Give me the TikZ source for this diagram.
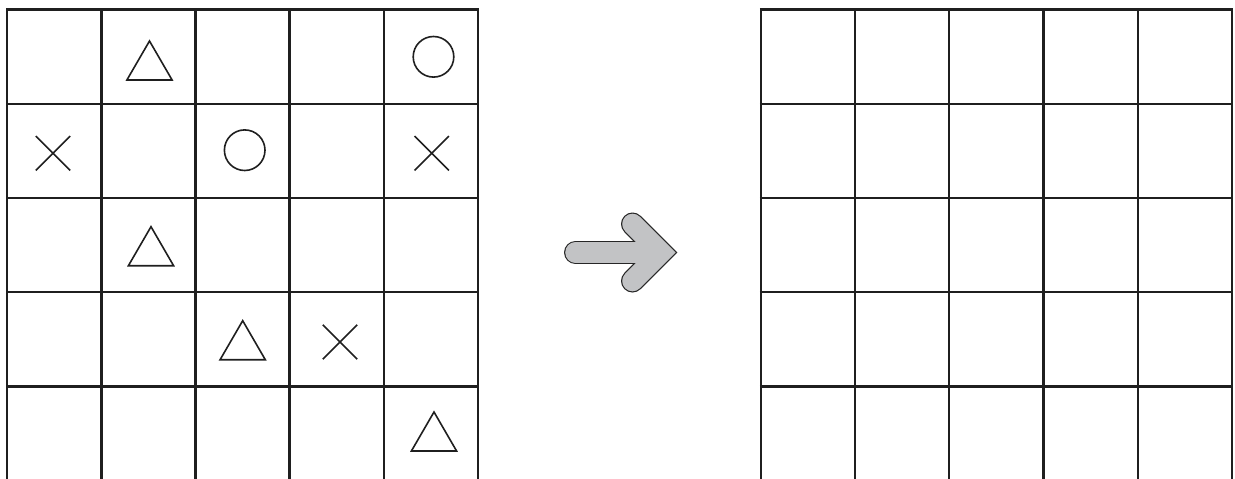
\documentclass[tikz,border=0pt]{standalone}
\begin{document}
\begin{tikzpicture}[x=1pt,y=-1pt,
  gridline/.style={line width=2.2pt,draw=black!88},
  sym/.style={line width=1.6pt,draw=black!88,line join=miter},
  arrowout/.style={line width=23pt,draw=black!85,line cap=round,line join=miter},
  arrowin/.style={line width=20.6pt,draw=arrowgray,line cap=round,line join=miter}]
\definecolor{arrowgray}{RGB}{194,195,197}
\useasboundingbox (0,0) rectangle (1235,479);
% left grid
\foreach \x in {7.3,101.4,195.5,289.5,383.6,477.7}
  \draw[gridline] (\x,8.4) -- (\x,481);
\foreach \y in {9.5,104,198,292,386.5}
  \draw[gridline] (6.2,\y) -- (478.8,\y);
% right grid
\foreach \x in {761,855.2,949.3,1043.4,1137.6,1231.8}
  \draw[gridline] (\x,8.4) -- (\x,481);
\foreach \y in {9.5,104,198,292,386.5}
  \draw[gridline] (759.9,\y) -- (1232.9,\y);
% triangles
\foreach \cx/\ty in {149.5/41, 151/226.7, 242.7/320.7, 434/412}
  \draw[sym] (\cx,\ty) -- (\cx+22.6,\ty+39) -- (\cx-22.6,\ty+39) -- cycle;
% circles
\foreach \cx/\cy in {433.5/56.8, 244.7/150.2}
  \draw[sym] (\cx,\cy) circle (20.3);
% crosses
\foreach \cx/\cy in {53/153.3, 431.7/153.3, 340/342}
  \draw[sym] (\cx-17.2,\cy-17.2) -- (\cx+17.2,\cy+17.2)
             (\cx-17.2,\cy+17.2) -- (\cx+17.2,\cy-17.2);
% arrow
\coordinate (ashaftstart) at (575.5,252.5);
\coordinate (ashaftend) at (650,252.5);
\coordinate (aarmtop) at (632.5,224);
\coordinate (avertex) at (661,252.5);
\coordinate (aarmbot) at (632.5,281);
\draw[arrowout] (ashaftstart) -- (ashaftend);
\draw[arrowout] (aarmtop) -- (avertex) -- (aarmbot);
\draw[arrowin] (ashaftstart) -- (ashaftend);
\draw[arrowin] (aarmtop) -- (avertex) -- (aarmbot);
\end{tikzpicture}
\end{document}
